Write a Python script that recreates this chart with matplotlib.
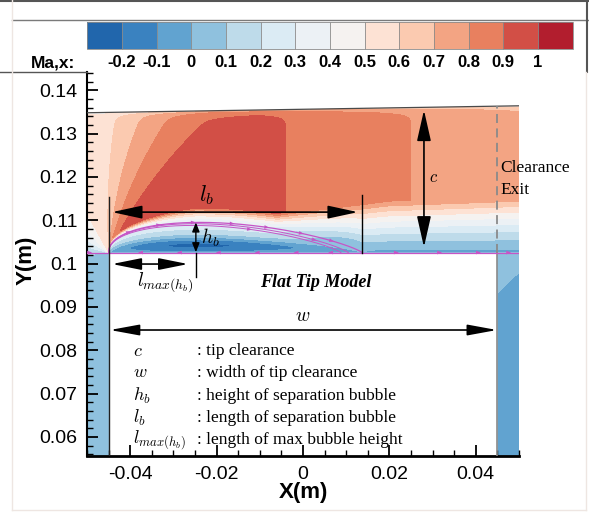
import numpy as np
import matplotlib
matplotlib.use("Agg")
import matplotlib.pyplot as plt
from matplotlib.colors import ListedColormap
from matplotlib.patches import Polygon
from matplotlib.lines import Line2D
from matplotlib.ticker import MultipleLocator

plt.rcParams['font.family'] = ['Liberation Sans', 'DejaVu Sans']
plt.rcParams['mathtext.fontset'] = 'cm'
plt.rcParams['axes.unicode_minus'] = False

W, H = 589, 514

# ---- colour scale ---------------------------------------------------------
ma_levels = [-0.25, -0.2, -0.1, 0.0, 0.1, 0.2, 0.3, 0.4, 0.5, 0.6, 0.7, 0.8, 0.9, 1.0, 1.05]
ma_colors = ['#2166ac', '#3a82c0', '#61a3d0', '#8fc1de', '#bedbea', '#dbebf4', '#ecf1f5',
             '#f5f2f0', '#fde2d4', '#fbcab0', '#f3a483', '#e8805f', '#d24f46', '#b21e2e']
cbar_ticks = [-0.2, -0.1, 0.0, 0.1, 0.2, 0.3, 0.4, 0.5, 0.6, 0.7, 0.8, 0.9, 1.0]
cbar_labels = ['-0.2', '-0.1', '0', '0.1', '0.2', '0.3', '0.4', '0.5', '0.6', '0.7', '0.8', '0.9', '1']

# ---- axes -----------------------------------------------------------------
x_range = (-0.05, 0.05)
y_range = (0.0556, 0.1442)
x_ticks = [-0.04, -0.02, 0.0, 0.02, 0.04]
x_ticklabels = ['-0.04', '-0.02', '0', '0.02', '0.04']
y_ticks = [0.06, 0.07, 0.08, 0.09, 0.10, 0.11, 0.12, 0.13, 0.14]
y_ticklabels = ['0.06', '0.07', '0.08', '0.09', '0.1', '0.11', '0.12', '0.13', '0.14']

# ---- tip gap geometry -----------------------------------------------------
x_lead, x_trail = -0.045, 0.045
y_tip = 0.1025
casing_ends = (0.1348, 0.1364)
x_reattach = 0.0137
bubble_h = 0.007
x_hmax = -0.0248

# flow turning round the leading corner: direction (deg) -> Ma,x
fan_angle = [0, 54, 65.5, 75.5, 86, 119, 135, 150, 165, 185, 200, 360]
fan_ma = [1.0, 0.9, 0.8, 0.7, 0.6, 0.5, 0.4, 0.3, 0.2, 0.1, 0.05, 0.05]

# symbol legend
legend_symbols = [r'$c$', r'$w$', r'$h_b$', r'$l_b$', r'$l_{max(h_b)}$']
legend_texts = [': tip clearance', ': width of tip clearance', ': height of separation bubble',
                ': length of separation bubble', ': length of max bubble height']
legend_y = [0.0798, 0.0748, 0.0695, 0.0644, 0.0593]


def casing_y(x):
    return casing_ends[0] + (casing_ends[1] - casing_ends[0]) * (x - x_range[0]) / (x_range[1] - x_range[0])


def bubble(x, x_end=x_reattach, hmax=bubble_h, a=0.45, b=0.8):
    s = np.clip((np.asarray(x, float) - x_lead) / (x_end - x_lead), 0.0, 1.0)
    sp = a / (a + b)
    return hmax * s**a * (1 - s)**b / (sp**a * (1 - sp)**b)


def smoothstep(t):
    t = np.clip(t, 0, 1)
    return t * t * (3 - 2 * t)


def mach_field(X, Y):
    dx = X - x_lead
    dy = Y - y_tip
    r = np.hypot(dx, dy)
    theta = np.degrees(np.arctan2(dy, dx)) % 360
    bend = np.clip((110 - theta) / 30, 0, 1)
    theta_eff = theta + 280 * (np.minimum(r, 0.036) - 0.036) * bend
    fan = np.interp(theta_eff, fan_angle, fan_ma)
    down = 0.9 - (X + 0.004) * (0.1 / 0.029)
    core = np.minimum(np.minimum(fan, down), 0.97)

    h = bubble(X)
    yb = y_tip + h
    sb = (X - x_lead) / (x_reattach - x_lead)
    m0 = 0.3 * (1 - smoothstep((sb - 0.55) / 0.45))
    shear = 0.0008 + 0.0027 * np.clip(dx / 0.02, 0, 1)
    layer = 0.0121 * np.clip((X + 0.03) / 0.05, 0, 1) ** 0.4
    ytop = np.maximum(yb + shear, y_tip + layer)
    eta = np.clip((Y - yb) / (ytop - yb), 0, 1)
    above = m0 + (core - m0) * eta**1.4
    wall = -0.06 * np.exp(-np.maximum(dy, 0) / 0.0007) * np.clip((X - x_reattach) / 0.005, 0, 1)
    above = above + wall

    sg = np.clip(sb, 0, 1)
    a_, b_ = 0.8, 1.486
    sp = a_ / (a_ + b_)
    amp = 0.26 * sg**a_ * (1 - sg)**b_ / (sp**a_ * (1 - sp)**b_)
    zeta = np.clip(dy / np.maximum(h, 1e-9), 0, 1)
    inside = m0 * zeta**1.5 - amp * np.exp(-((zeta - 0.27) / 0.25) ** 2)

    m = np.where(Y >= yb, above, inside)
    m = np.where(X < x_lead, fan, m)

    q = (y_tip - Y) + 0.96 * (X - x_trail)
    strip = np.clip(0.07 - 0.07 * (np.maximum(q, 0) / 0.0093) ** 1.5, -0.07, 0.07)
    m = np.where((X > x_trail) & (Y < y_tip), strip, m)

    gap = casing_y(X) - Y
    m = m * (1 - 0.3 * np.exp(-np.maximum(gap, 0) / 0.0005))
    return np.clip(m, -0.249, 1.049)


fig = plt.figure(figsize=(W / 100, H / 100), dpi=100)
ax = fig.add_axes([87 / W, 58 / H, 432 / W, 384 / H])

xg = np.linspace(x_range[0], x_range[1], 900)
yg = np.linspace(y_range[0], casing_ends[1] + 0.0005, 760)
X, Y = np.meshgrid(xg, yg)
M = mach_field(X, Y)

cmap = ListedColormap(ma_colors)
cs = ax.contourf(X, Y, M, levels=ma_levels, cmap=cmap, vmin=-0.25, vmax=1.05, zorder=1)
domain = Polygon([(x_range[0], y_range[0]), (x_range[0], casing_y(x_range[0])),
                  (x_range[1], casing_y(x_range[1])), (x_range[1], y_range[0]),
                  (x_trail, y_range[0]), (x_trail, y_tip), (x_lead, y_tip), (x_lead, y_range[0])],
                 closed=True, transform=ax.transData)
cs.set_clip_path(domain)

# casing, tip and blade outline
ax.plot(x_range, [casing_y(x_range[0]), casing_y(x_range[1])], color='#4a4a4a', lw=0.9, zorder=3)
ax.plot([x_lead, x_trail], [y_tip, y_tip], color='#555555', lw=0.6, zorder=3)
ax.plot([x_trail, x_trail], [y_tip, casing_y(x_trail)], color='#8a8a8a', lw=1.3,
        ls=(0, (5, 3)), zorder=3)
ax.plot([x_trail, x_trail], [y_range[0], y_tip], color='#8a8a8a', lw=1.2, zorder=3)
ax.plot([x_lead, x_lead], [y_range[0], 0.1153], color='#202020', lw=1.0, zorder=5)
ax.plot([x_reattach, x_reattach], [y_tip, 0.1158], color='black', lw=1.0, zorder=5)
ax.plot([x_hmax, x_hmax], [0.0969, y_tip], color='black', lw=1.0, zorder=5)

# separation bubble streamlines
mag = '#c655c6'
xs = np.linspace(x_lead, x_reattach, 300)
ax.plot(xs, y_tip + bubble(xs), color=mag, lw=0.9, zorder=4)
inner_loops = [(0.0105, 0.0067), (0.0088, 0.0063)]
for xe, hm in inner_loops:
    xi = np.linspace(x_lead, xe, 300)
    ax.plot(xi, y_tip + bubble(xi, xe, hm), color=mag, lw=0.7, zorder=4)
ax.plot(x_range, [y_tip + 0.00005] * 2, color=mag, lw=0.9, zorder=4)


def flow_arrow(x, yfun, direction):
    d = 2e-4 * direction
    ax.annotate('', xy=(x + d, yfun(x + d)), xytext=(x, yfun(x)),
                arrowprops=dict(arrowstyle='-|>,head_length=0.6,head_width=0.22', color=mag,
                                lw=0.0, shrinkA=0, shrinkB=0, mutation_scale=6), zorder=4)


top_line = lambda x: y_tip + bubble(x)
wall_line = lambda x: y_tip + 0.00005 + 0 * x
for xa in [-0.040, -0.033, -0.025, -0.016, -0.008, 0.0, 0.007]:
    flow_arrow(xa, top_line, 1)
for xa in [-0.038, -0.029, -0.020, -0.011, -0.002, 0.006]:
    flow_arrow(xa, wall_line, -1)
for xa in [-0.049, 0.022, 0.032, 0.041, 0.048]:
    flow_arrow(xa, wall_line, 1)
flow_arrow(0.003, lambda x: y_tip + bubble(x, *inner_loops[0]), 1)
flow_arrow(-0.012, lambda x: y_tip + bubble(x, *inner_loops[1]), 1)


# dimension arrows (head sizes given in points)
def dim_arrow(p0, p1, head_len, head_half, lw=1.2):
    ax.annotate('', xy=p1, xytext=p0,
                arrowprops=dict(arrowstyle=f'<|-|>,head_length={head_len},head_width={head_half}',
                                color='black', lw=lw, shrinkA=0, shrinkB=0, mutation_scale=1),
                zorder=6)


dim_arrow((-0.0442, 0.11187), (0.0127, 0.11187), 18.5, 4.0)
dim_arrow((x_hmax, y_tip + bubble(x_hmax)), (x_hmax, y_tip + 0.0001), 5.5, 2.2, lw=1.0)
dim_arrow((-0.0442, 0.09989), (-0.0266, 0.09989), 18.0, 3.6)
dim_arrow((0.0280, 0.1354), (0.0280, 0.1038), 19.0, 4.3)
dim_arrow((-0.0447, 0.08467), (0.0449, 0.08467), 18.0, 3.3)

# labels
ax.text(-0.0222, 0.1158, r'$l_b$', fontsize=16, ha='center', va='center', zorder=7)
ax.text(-0.0236, 0.1059, r'$h_b$', fontsize=14, ha='left', va='center', zorder=7)
ax.text(-0.0319, 0.0957, r'$l_{max(h_b)}$', fontsize=14, ha='center', va='center', zorder=7)
ax.text(0.0030, 0.0957, 'Flat Tip Model', family='Liberation Serif', fontweight='bold',
        fontstyle='italic', fontsize=13, ha='center', va='center', zorder=7)
ax.text(0.0292, 0.1199, r'$c$', fontsize=12, ha='left', va='center', zorder=7)
ax.text(0.0456, 0.1220, 'Clearance', family='Liberation Serif', fontsize=12.5,
        ha='left', va='center', zorder=7)
ax.text(0.0456, 0.11695, 'Exit', family='Liberation Serif', fontsize=12.5,
        ha='left', va='center', zorder=7)
ax.text(0.0, 0.0877, r'$w$', fontsize=14, ha='center', va='center', zorder=7)
for sym, txt, yy in zip(legend_symbols, legend_texts, legend_y):
    ax.text(-0.0394, yy, sym, fontsize=13, ha='left', va='center', zorder=7)
    ax.text(-0.0245, yy, txt, family='Liberation Serif', fontsize=12.5,
            ha='left', va='center', zorder=7)

# axes styling
ax.set_xlim(*x_range)
ax.set_ylim(*y_range)
ax.set_xticks(x_ticks)
ax.set_xticklabels(x_ticklabels)
ax.set_yticks(y_ticks)
ax.set_yticklabels(y_ticklabels)
ax.xaxis.set_minor_locator(MultipleLocator(0.005))
ax.yaxis.set_minor_locator(MultipleLocator(0.002))
ax.tick_params(which='major', direction='in', length=8, width=1.3, labelsize=14, pad=7,
               top=False, right=False)
ax.tick_params(which='minor', direction='in', length=4.5, width=1.0, top=False, right=False)
for side in ('top', 'right'):
    ax.spines[side].set_visible(False)
ax.spines['left'].set_linewidth(1.5)
ax.spines['bottom'].set_linewidth(2.0)
ax.set_xlabel('X(m)', fontsize=16, fontweight='bold', va='center')
ax.set_ylabel('Y(m)', fontsize=16, fontweight='bold', va='center')
ax.xaxis.set_label_coords(0.5, -0.096)
ax.yaxis.set_label_coords(-0.141, 0.51)

# colour bar
cax = fig.add_axes([87.3 / W, 1 - 49.3 / H, 485.4 / W, 27.5 / H])
cb = fig.colorbar(cs, cax=cax, orientation='horizontal', ticks=cbar_ticks, drawedges=True)
cb.set_ticklabels(cbar_labels)
cb.ax.tick_params(length=0, pad=4, labelsize=12)
for t in cb.ax.get_xticklabels():
    t.set_fontweight('bold')
cb.outline.set_edgecolor('#8a8a8a')
cb.outline.set_linewidth(0.6)
cb.dividers.set_color('#8a8a8a')
cb.dividers.set_linewidth(0.6)
fig.text(31 / W, 1 - 63 / H, 'Ma,x:', fontsize=12.5, fontweight='bold', ha='left', va='center')


# frame lines
def fig_line(x0, y0, x1, y1, color, lw):
    fig.add_artist(Line2D([x0 / W, x1 / W], [1 - y0 / H, 1 - y1 / H], color=color, lw=lw))


fig_line(0, 0.5, W, 0.5, '#555555', 1.5)
fig_line(12, 20, W, 20, '#7a7a7a', 1.0)
fig_line(587, 0, 587, 72, '#555555', 1.5)
fig_line(0, 72, 87, 72, '#555555', 1.0)
fig_line(12, 0, 12, 510, '#eee6e2', 1.0)
fig_line(586, 72, 586, 510, '#eee6e2', 1.0)
fig_line(12, 510, 586, 510, '#eee6e2', 1.0)

fig.savefig('out.png', dpi=100)
